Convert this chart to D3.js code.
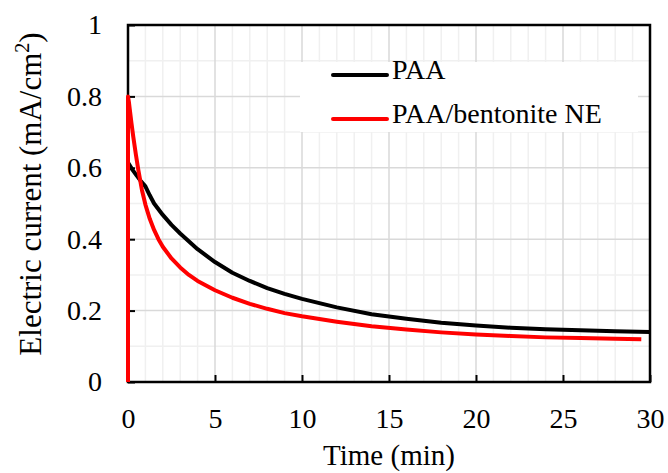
<!DOCTYPE html>
<html>
<head>
<meta charset="utf-8">
<script src="https://cdn.jsdelivr.net/npm/d3@7"></script>
<style>
  body { margin: 0; background: #fff; }
</style>
</head>
<body>
<div id="chart"></div>
<script>
// Data
const timePAA = [0, 0.25, 0.5, 0.75, 1.0, 1.25, 1.5, 2, 2.5, 3, 4, 5, 6, 7, 8, 9, 10, 12, 14, 16, 18, 20, 22, 24, 26, 28, 30];
const currentPAA = [0.615, 0.595, 0.578, 0.562, 0.548, 0.523, 0.50, 0.468, 0.44, 0.416, 0.372, 0.336, 0.306, 0.283, 0.263, 0.247, 0.233, 0.209, 0.19, 0.177, 0.166, 0.158, 0.152, 0.148, 0.145, 0.142, 0.14];

const timeNE = [0, 0, 0.05, 0.1, 0.2, 0.3, 0.45, 0.6, 0.8, 1.0, 1.25, 1.5, 1.75, 2, 2.5, 3, 3.5, 4, 5, 6, 7, 8, 9, 10, 12, 14, 16, 18, 20, 22, 24, 26, 28, 29.5];
const currentNE = [0, 0.8, 0.785, 0.765, 0.725, 0.688, 0.638, 0.592, 0.538, 0.497, 0.457, 0.426, 0.4, 0.379, 0.346, 0.321, 0.3, 0.283, 0.257, 0.236, 0.219, 0.205, 0.193, 0.184, 0.169, 0.156, 0.147, 0.139, 0.133, 0.129, 0.125, 0.123, 0.121, 0.12];

const seriesNames = ["PAA", "PAA/bentonite NE"];
const seriesColors = ["#000000", "#ff0000"];
const xTicks = [0, 5, 10, 15, 20, 25, 30];
const yTicks = [0, 0.2, 0.4, 0.6, 0.8, 1];

const W = 668, H = 473;
const margin = { top: 25, right: 18, bottom: 91, left: 128 };
const width = W - margin.left - margin.right;
const height = H - margin.top - margin.bottom;
const fontSize = 28;
const serif = "Liberation Serif";

const x = d3.scaleLinear().domain([0, 30]).range([0, width]);
const y = d3.scaleLinear().domain([0, 1]).range([height, 0]);

const svg = d3.select("#chart").append("svg")
    .attr("width", W)
    .attr("height", H)
    .attr("font-family", serif);

const g = svg.append("g")
    .attr("transform", `translate(${margin.left},${margin.top})`);

// Minor gridlines
g.append("g").selectAll("line")
  .data(d3.range(1, 30).filter(d => d % 5 !== 0))
  .join("line")
    .attr("x1", d => x(d)).attr("x2", d => x(d))
    .attr("y1", 0).attr("y2", height)
    .attr("stroke", "#f0f0f0").attr("stroke-width", 1.5);

g.append("g").selectAll("line")
  .data([0.1, 0.3, 0.5, 0.7, 0.9])
  .join("line")
    .attr("x1", 0).attr("x2", width)
    .attr("y1", d => y(d)).attr("y2", d => y(d))
    .attr("stroke", "#f0f0f0").attr("stroke-width", 1.5);

// Major gridlines
g.append("g").selectAll("line")
  .data(xTicks.slice(1, -1))
  .join("line")
    .attr("x1", d => x(d)).attr("x2", d => x(d))
    .attr("y1", 0).attr("y2", height)
    .attr("stroke", "#d9d9d9").attr("stroke-width", 1.5);

g.append("g").selectAll("line")
  .data(yTicks.slice(1, -1))
  .join("line")
    .attr("x1", 0).attr("x2", width)
    .attr("y1", d => y(d)).attr("y2", d => y(d))
    .attr("stroke", "#d9d9d9").attr("stroke-width", 1.5);

// Legend background hides the grid
g.append("rect")
    .attr("x", 172).attr("y", 37)
    .attr("width", 338).attr("height", 70)
    .attr("fill", "#fff");

// Axes with inward ticks
const xAxis = g.append("g")
    .attr("transform", `translate(0,${height})`)
    .call(d3.axisBottom(x).tickValues(xTicks).tickSize(-7).tickPadding(26).tickFormat(d3.format("d")));

const yAxis = g.append("g")
    .call(d3.axisLeft(y).tickValues(yTicks).tickSize(-7).tickPadding(26)
      .tickFormat(d => d === 0 || d === 1 ? d : d3.format(".1f")(d)));

[xAxis, yAxis].forEach(a => {
  a.attr("font-family", serif).attr("font-size", fontSize);
  a.select(".domain").remove();
  a.selectAll(".tick line").attr("stroke", "#000").attr("stroke-width", 2);
  a.selectAll(".tick text")
    .attr("font-family", serif)
    .attr("font-size", fontSize)
    .attr("fill", "#000");
});

// Frame
g.append("rect")
    .attr("width", width).attr("height", height)
    .attr("fill", "none")
    .attr("stroke", "#000")
    .attr("stroke-width", 2.5);

// Curves
const line = d3.line()
    .x(d => x(d[0]))
    .y(d => y(d[1]));

const seriesData = [
  d3.zip(timePAA, currentPAA),
  d3.zip(timeNE, currentNE)
];

seriesData.forEach((s, i) => {
  g.append("path")
    .datum(s)
    .attr("fill", "none")
    .attr("stroke", seriesColors[i])
    .attr("stroke-width", 4)
    .attr("stroke-linejoin", "round")
    .attr("d", line);
});

// Legend
seriesNames.forEach((name, i) => {
  const ly = 50 + i * 44;
  g.append("line")
    .attr("x1", 205).attr("x2", 259)
    .attr("y1", ly).attr("y2", ly)
    .attr("stroke", seriesColors[i])
    .attr("stroke-width", 4)
    .attr("stroke-linecap", "round");
  g.append("text")
    .attr("x", 264).attr("y", ly + 3.5)
    .attr("font-family", serif)
    .attr("font-size", fontSize)
    .text(name);
});

// Axis titles
svg.append("text")
    .attr("x", margin.left + width / 2)
    .attr("y", 465)
    .attr("text-anchor", "middle")
    .attr("font-family", serif)
    .attr("font-size", 29)
    .text("Time (min)");

const yTitle = svg.append("text")
    .attr("transform", "translate(41,194) rotate(-90)")
    .attr("text-anchor", "middle")
    .attr("font-family", serif)
    .attr("font-size", 31);
yTitle.append("tspan").text("Electric current (mA/cm");
yTitle.append("tspan").attr("dy", -12).attr("font-size", 20).text("2");
yTitle.append("tspan").attr("dy", 12).text(")");
</script>
</body>
</html>
